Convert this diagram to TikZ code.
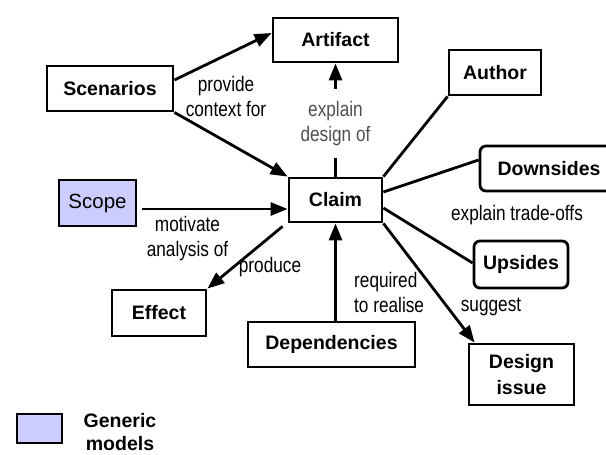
\documentclass[tikz,border=0pt]{standalone}
\usepackage{fontspec}
\setmainfont{Liberation Sans}
\newfontfamily\narrowfont[FakeStretch=0.82]{Liberation Sans}
\usetikzlibrary{arrows.meta}
\definecolor{lav}{HTML}{CCCCFF}
\definecolor{lblgray}{HTML}{505050}
\begin{document}
\begin{tikzpicture}[x=1pt,y=-1pt,
  box/.style={draw, line width=2.8pt, inner sep=0pt, align=center,
    font=\fontsize{19.5}{26}\selectfont\bfseries},
  rbox/.style={box, rounded corners=6pt},
  lbl/.style={font=\narrowfont\fontsize{21}{25}\selectfont, align=center, inner sep=0pt},
  conn/.style={line width=2.8pt},
  arr/.style={conn, -{Triangle[length=17pt,width=13pt]}}]
\useasboundingbox (0,0) rectangle (606,455);
\clip (0,0) rectangle (606,455);

% nodes
\node[box, minimum width=125pt, minimum height=44pt] (art) at (335.5,40) {Artifact};
\node[box, minimum width=126pt, minimum height=45pt] (scen) at (110,88.5) {Scenarios};
\node[box, fill=lav, minimum width=77pt, minimum height=46pt,
  font=\fontsize{20.5}{24}\selectfont] (scope) at (97.5,203) {Scope};
\node[box, minimum width=93pt, minimum height=44pt] (claim) at (335.5,200) {Claim};
\node[box, minimum width=92pt, minimum height=45pt] (auth) at (495,72.5) {Author};
\node[rbox, minimum width=138pt, minimum height=45pt] (down) at (549,168.5) {Downsides};
\node[rbox, minimum width=94pt, minimum height=47pt] (up) at (521,264.5) {Upsides};
\node[box, minimum width=105pt, minimum height=61pt] (des) at (521.5,374.5) {Design\\issue};
\node[box, minimum width=167pt, minimum height=45pt] (dep) at (331.5,344.5) {Dependencies};
\node[box, minimum width=94pt, minimum height=46pt] (eff) at (159,313) {Effect};

% legend
\node[box, fill=lav, minimum width=45pt, minimum height=29pt] (leg) at (39.5,428.5) {};
\node[inner sep=0pt, align=center, font=\fontsize{19.5}{23}\selectfont\bfseries] (legt) at (120,432) {Generic\\models};

% connectors
\draw[arr] ([yshift=8.5pt]scen.east) -- ([yshift=7pt]art.west);
\draw[arr] (scen.south east) -- (claim.north west);
\coordinate (sa) at ([xshift=5pt,yshift=-6pt]scope.east);
\draw[arr] (sa) -- (sa -| claim.west);
\draw[arr] ([xshift=-5pt,yshift=-3pt]claim.south west) -- (eff.north east);
\draw[arr] (dep.north -| claim.south) -- (claim.south);
\draw[arr] (claim.south east) -- ([xshift=7pt]des.north west);
\draw[conn] (claim.north east) -- (auth.south west);
\draw[conn] ([yshift=8pt]claim.east) -- ([yshift=8.5pt]down.west);
\draw[conn] ([yshift=-8pt]claim.east) -- ([yshift=1.5pt]up.west);
\draw[arr] (claim.north) -- node[lbl, pos=0.47, fill=white, text=lblgray,
  inner ysep=12.5pt, inner xsep=2pt] (l2) {explain\\design of} (art.south);

% labels
\node[lbl] (l1) at (226,96) {provide\\context for};
\node[lbl] (l3) at (187.5,239) {motivate\\analysis of};
\node[lbl] (l4) at (270,267) {produce};
\node[lbl, align=left, anchor=west] (l5) at (354,292) {required\\to realise};
\node[lbl] (l6) at (491,307) {suggest};
\node[lbl] (l7) at (517,215) {explain trade-offs};
\end{tikzpicture}
\end{document}
